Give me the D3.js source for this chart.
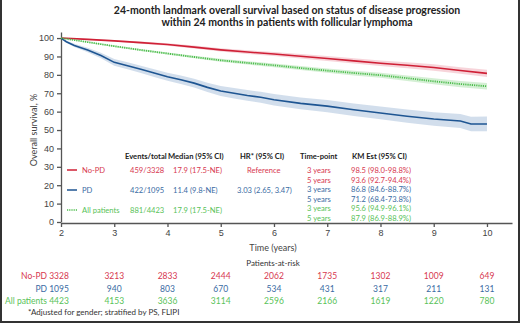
<!DOCTYPE html>
<html lang="en">
<head>
  <meta charset="UTF-8">
  <title>24-month landmark overall survival</title>
  <script src="https://d3js.org/d3.v7.min.js"></script>
  <style>
    body { margin: 0; background: #fff; }
    svg { font-family: Lato, "Open Sans", sans-serif; }
    .axis text { font-size: 9px; fill: #444; }
    .axis path, .axis line { stroke: #555; stroke-width: 1.3px; }
  </style>
</head>
<body>
<script>
  // No-PD
  const noPdYears = [2, 2.5, 3, 3.5, 4, 4.5, 5, 5.5, 6, 6.5, 7, 7.5, 8, 8.5, 9, 9.5, 10];
  const noPdSurv  = [100, 99.3, 98.5, 97.5, 96.5, 95.1, 93.6, 92.4, 91.3, 90.1, 88.9, 87.6, 86.3, 85.2, 84.0, 82.4, 80.8];
  const noPdCi    = [0, 0.3, 0.4, 0.6, 0.7, 0.8, 0.9, 1.0, 1.1, 1.2, 1.3, 1.4, 1.5, 1.6, 1.7, 1.8, 2.0];
  // PD
  const pdYears = [2, 2.1, 2.25, 2.5, 2.75, 3, 3.25, 3.5, 3.75, 4, 4.25, 4.5, 4.75, 5, 5.25, 5.5, 5.75, 6, 6.5, 7, 7.5, 8, 8.5, 9, 9.5, 9.7, 10];
  const pdSurv  = [100, 98, 96, 93.5, 90.5, 86.8, 85, 83, 81, 79, 77.3, 75.5, 73.2, 71.2, 70, 68.8, 67.8, 66.5, 64.5, 63, 61, 59.3, 57.5, 56, 54.9, 53.3, 53.3];
  const pdCi    = [0, 0.6, 0.9, 1.2, 1.5, 1.8, 1.9, 2.0, 2.1, 2.2, 2.3, 2.4, 2.5, 2.7, 2.8, 2.9, 3.0, 3.1, 3.2, 3.3, 3.4, 3.5, 3.6, 3.7, 3.8, 3.9, 4.0];
  // All patients
  const allYears = [2, 2.5, 3, 3.5, 4, 4.5, 5, 5.5, 6, 6.5, 7, 7.5, 8, 8.5, 9, 9.5, 10];
  const allSurv  = [100, 97.8, 95.6, 93.5, 91.6, 89.7, 87.9, 86.5, 85.2, 83.7, 82.3, 81.0, 79.8, 78.2, 76.5, 75.0, 73.8];
  const allCi    = [0, 0.3, 0.4, 0.5, 0.6, 0.7, 0.8, 0.9, 1.0, 1.1, 1.2, 1.3, 1.4, 1.5, 1.6, 1.7, 1.8];

  const xTicks = [2, 3, 4, 5, 6, 7, 8, 9, 10];
  const yTicks = [0, 10, 20, 30, 40, 50, 60, 70, 80, 90, 100];

  const groups = ["No-PD", "PD", "All patients"];
  const eventsTotal = ["459/3328", "422/1095", "881/4423"];
  const medians = ["17.9 (17.5-NE)", "11.4 (9.8-NE)", "17.9 (17.5-NE)"];
  const hrs = ["Reference", "3.03 (2.65, 3.47)", ""];
  const timePoints = ["3 years", "5 years"];
  const kmEst = [
    ["98.5 (98.0-98.8%)", "93.6 (92.7-94.4%)"],
    ["86.8 (84.6-88.7%)", "71.2 (68.4-73.8%)"],
    ["95.6 (94.9-96.1%)", "87.9 (86.9-88.9%)"]
  ];
  const riskYears = [2, 3, 4, 5, 6, 7, 8, 9, 10];
  const atRisk = [
    [3328, 3213, 2833, 2444, 2062, 1735, 1302, 1009, 649],
    [1095, 940, 803, 670, 534, 431, 317, 211, 131],
    [4423, 4153, 3636, 3114, 2596, 2166, 1619, 1220, 780]
  ];

  const lineColors = ["#cf2036", "#1e5592", "#4cbd4c"];
  const bandColors = ["#f6cdd4", "#cad8e9", "#cdeccd"];
  const textColors = ["#d7384f", "#3a6ba3", "#58c258"];

  const W = 520, H = 323;
  const svg = d3.select("body").append("svg")
    .attr("width", W)
    .attr("height", H);

  // frame (sides and bottom)
  svg.append("path")
    .attr("d", "M1,0V" + (H - 1) + "H" + (W - 1) + "V0")
    .attr("fill", "none")
    .attr("stroke", "#333")
    .attr("stroke-width", 2);

  // title
  const title = svg.append("text")
    .attr("x", 287)
    .attr("text-anchor", "middle")
    .style("font-size", "10.5px")
    .style("font-weight", "bold")
    .style("fill", "#222");
  title.append("tspan").attr("x", 287).attr("y", 14)
    .text("24-month landmark overall survival based on status of disease progression");
  title.append("tspan").attr("x", 287).attr("y", 26)
    .text("within 24 months in patients with follicular lymphoma");

  const x = d3.scaleLinear().domain([2, 10.47]).range([61, 512]);
  const y = d3.scaleLinear().domain([0, 103.3]).range([222, 32]);

  svg.append("g")
    .attr("class", "axis")
    .attr("transform", "translate(0,223)")
    .call(d3.axisBottom(x).tickValues(xTicks).tickSize(4).tickSizeOuter(0).tickPadding(3));

  svg.append("g")
    .attr("class", "axis")
    .attr("transform", "translate(61,0)")
    .call(d3.axisLeft(y).tickValues(yTicks).tickSize(4).tickSizeOuter(0).tickPadding(3));

  svg.append("text")
    .attr("transform", "translate(37,130) rotate(-90)")
    .attr("text-anchor", "middle")
    .style("font-size", "9px")
    .style("fill", "#444")
    .text("Overall survival, %");

  svg.append("text")
    .attr("x", 273)
    .attr("y", 251)
    .attr("text-anchor", "middle")
    .style("font-size", "9px")
    .style("fill", "#444")
    .text("Time (years)");

  // curves
  const series = [
    { t: noPdYears, s: noPdSurv, ci: noPdCi },
    { t: pdYears, s: pdSurv, ci: pdCi },
    { t: allYears, s: allSurv, ci: allCi }
  ];

  const area = d3.area()
    .x(d => x(d.t))
    .y0(d => y(d.s - d.ci))
    .y1(d => y(d.s + d.ci));
  const line = d3.line()
    .x(d => x(d.t))
    .y(d => y(d.s));

  series.forEach((sr, i) => {
    const pts = sr.t.map((t, j) => ({ t: t, s: sr.s[j], ci: sr.ci[j] }));
    svg.append("path")
      .datum(pts)
      .attr("fill", bandColors[i])
      .attr("opacity", 0.85)
      .attr("d", area);
  });
  series.forEach((sr, i) => {
    const pts = sr.t.map((t, j) => ({ t: t, s: sr.s[j], ci: sr.ci[j] }));
    svg.append("path")
      .datum(pts)
      .attr("fill", "none")
      .attr("stroke", lineColors[i])
      .attr("stroke-width", i === 2 ? 1.8 : 1.6)
      .attr("stroke-dasharray", i === 2 ? "1.2,1" : null)
      .attr("d", line);
  });

  // in-plot table
  const tbl = svg.append("g").style("font-size", "7.6px");
  const head = [["Events/total", 125], ["Median (95% CI)", 168], ["HR* (95% CI)", 240], ["Time-point", 300], ["KM Est (95% CI)", 352]];
  head.forEach(h => {
    tbl.append("text").attr("x", h[1]).attr("y", 159)
      .style("font-weight", "bold").style("fill", "#222").text(h[0]);
  });

  const rowY = [173, 193, 213];
  groups.forEach((g, i) => {
    tbl.append("line")
      .attr("x1", 67).attr("x2", 77)
      .attr("y1", rowY[i] - 3).attr("y2", rowY[i] - 3)
      .attr("stroke", lineColors[i])
      .attr("stroke-width", 1.5)
      .attr("stroke-dasharray", i === 2 ? "1,0.8" : null);
    tbl.append("text").attr("x", 82).attr("y", rowY[i]).style("fill", textColors[i]).text(g);
    tbl.append("text").attr("x", 130).attr("y", rowY[i]).style("fill", textColors[i]).text(eventsTotal[i]);
    tbl.append("text").attr("x", 173).attr("y", rowY[i]).style("fill", textColors[i]).text(medians[i]);
    tbl.append("text").attr("x", i === 0 ? 247 : 237).attr("y", rowY[i]).style("fill", textColors[i]).text(hrs[i]);
    timePoints.forEach((tp, k) => {
      const yy = 173 + (i * 2 + k) * 9.6;
      tbl.append("text").attr("x", 307).attr("y", yy).style("fill", textColors[i]).text(tp);
      tbl.append("text").attr("x", 351).attr("y", yy).style("fill", textColors[i]).text(kmEst[i][k]);
    });
  });

  // patients at risk
  svg.append("text")
    .attr("x", 273).attr("y", 266)
    .attr("text-anchor", "middle")
    .style("font-size", "8px")
    .style("fill", "#333")
    .text("Patients-at-risk");

  const riskY = [279, 291.5, 303.5];
  atRisk.forEach((row, i) => {
    svg.append("text")
      .attr("x", 47).attr("y", riskY[i])
      .attr("text-anchor", "end")
      .style("font-size", "8.5px")
      .style("fill", textColors[i])
      .text(groups[i]);
    svg.selectAll(null)
      .data(row)
      .enter().append("text")
      .attr("x", (d, j) => j === 0 ? x(riskYears[j]) - 2 : x(riskYears[j]))
      .attr("y", riskY[i])
      .attr("text-anchor", "middle")
      .style("font-size", "8.5px")
      .style("fill", textColors[i])
      .text(d => d);
  });

  svg.append("text")
    .attr("x", 28).attr("y", 315)
    .style("font-size", "8px")
    .style("fill", "#333")
    .text("*Adjusted for gender; stratified by PS, FLIPI");
</script>
</body>
</html>
